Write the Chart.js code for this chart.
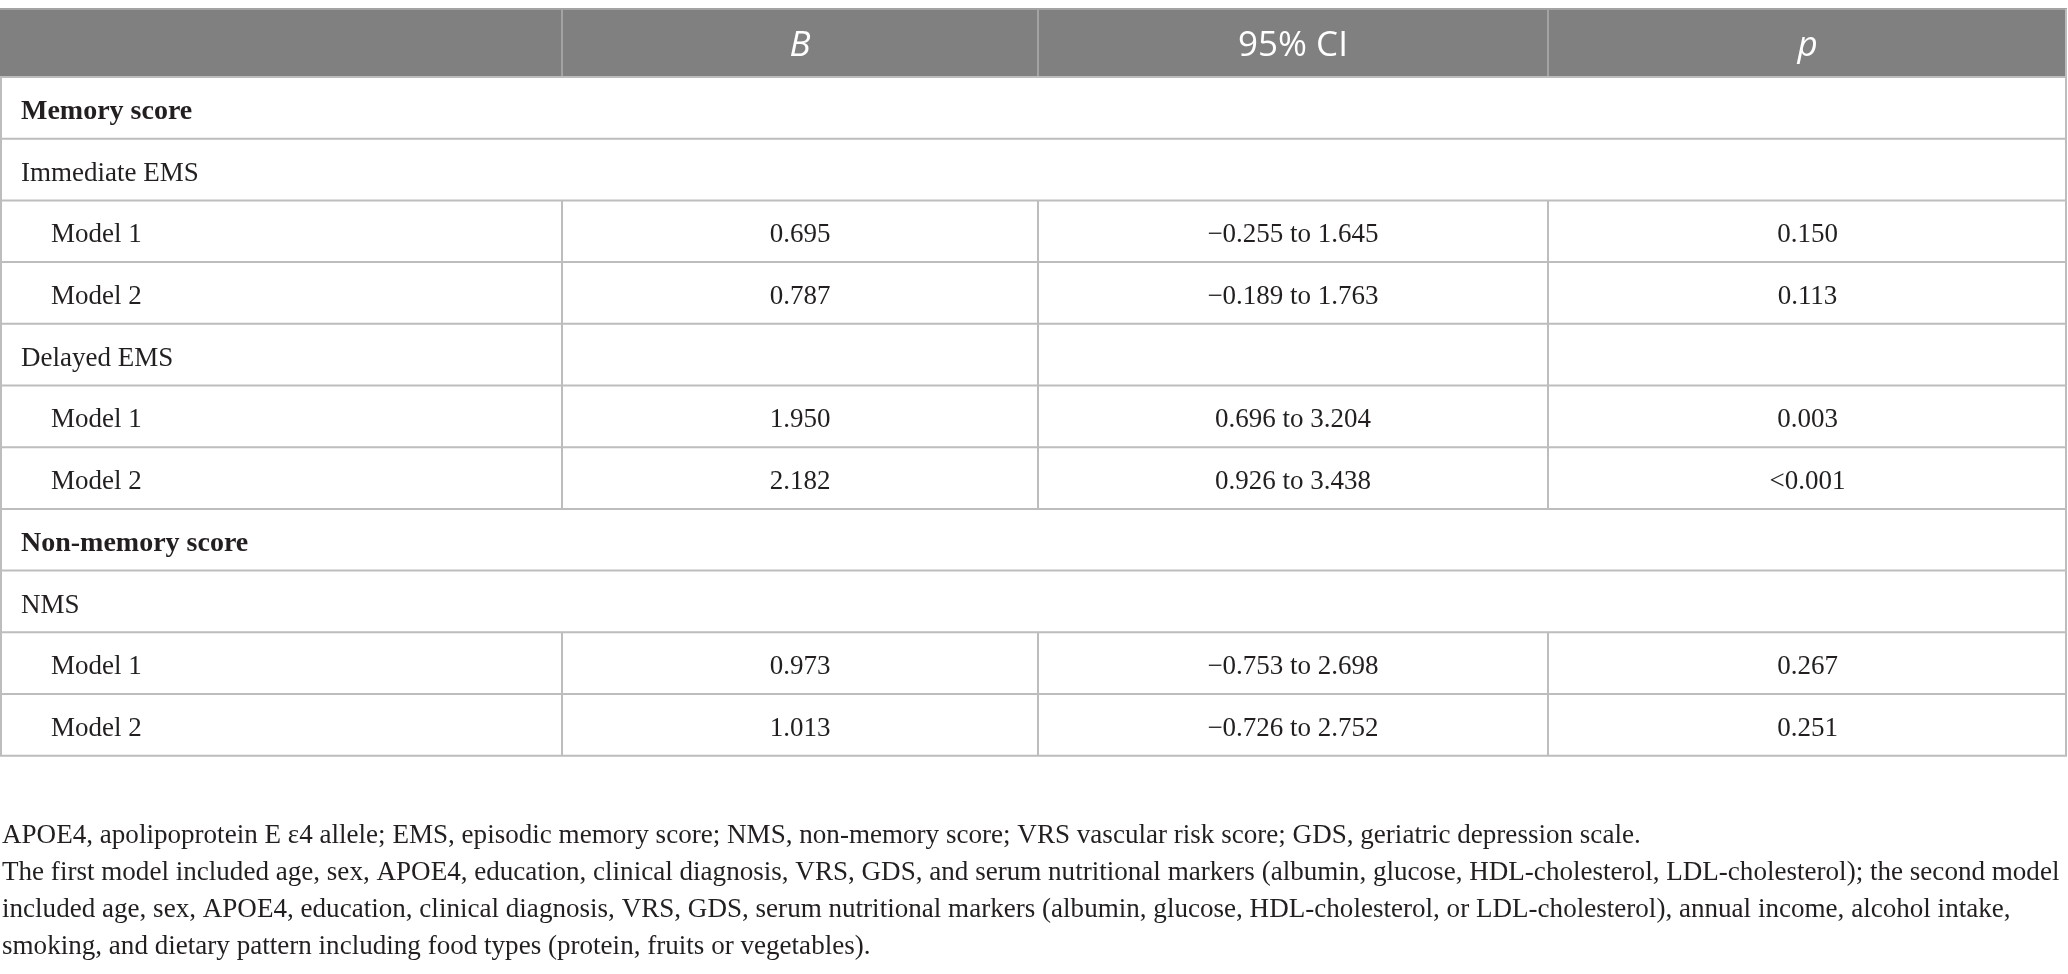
<!DOCTYPE html>
<html>

<head>
    <title>Regression table</title>
    <style type="text/css">
        body {
            margin: 0;
            background: #ffffff;
        }

        #tableChart {
            display: block;
        }
    </style>
    <script src="https://cdn.jsdelivr.net/npm/chart.js@4.4.1/dist/chart.umd.min.js"></script>
</head>

<body>
    <canvas id="tableChart" width="2068" height="974"></canvas>
    <script>
        // table content
        var columnHeads = ['', 'B', '95% CI', 'p'];
        var italicHeads = [false, true, false, true];

        var rowLabels = ['Memory score', 'Immediate EMS', 'Model 1', 'Model 2', 'Delayed EMS', 'Model 1', 'Model 2',
            'Non-memory score', 'NMS', 'Model 1', 'Model 2'];
        var rowKinds = ['section', 'group', 'model', 'model', 'groupSplit', 'model', 'model',
            'section', 'group', 'model', 'model'];

        var bValues = [null, null, 0.695, 0.787, null, 1.950, 2.182, null, null, 0.973, 1.013];
        var ciLow = [null, null, -0.255, -0.189, null, 0.696, 0.926, null, null, -0.753, -0.726];
        var ciHigh = [null, null, 1.645, 1.763, null, 3.204, 3.438, null, null, 2.698, 2.752];
        var pValues = [null, null, '0.150', '0.113', null, '0.003', '<0.001', null, null, '0.267', '0.251'];

        var footnotes = [
            'APOE4, apolipoprotein E \u03b54 allele; EMS, episodic memory score; NMS, non-memory score; VRS vascular risk score; GDS, geriatric depression scale.',
            'The first model included age, sex, APOE4, education, clinical diagnosis, VRS, GDS, and serum nutritional markers (albumin, glucose, HDL-cholesterol, LDL-cholesterol); the second model',
            'included age, sex, APOE4, education, clinical diagnosis, VRS, GDS, serum nutritional markers (albumin, glucose, HDL-cholesterol, or LDL-cholesterol), annual income, alcohol intake,',
            'smoking, and dietary pattern including food types (protein, fruits or vegetables).'
        ];

        // layout (in scale units, which map 1:1 onto the canvas)
        var colEdges = [0, 562, 1038, 1548, 2067];
        var tableTop = 9;
        var headerBottom = 77;
        var rowHeight = 61.7;
        var footTop = 843;
        var footStep = 37.0;
        var footWidth = 2058; // width of the longest footnote line

        var serif = '"Liberation Serif", "DejaVu Serif", serif';
        var sans = '"Open Sans", "Noto Sans", sans-serif';

        function formatNum(v) {
            return (v < 0 ? '\u2212' : '') + Math.abs(v).toFixed(3);
        }

        function cellText(i, col) {
            if (col === 1) return bValues[i] === null ? '' : formatNum(bValues[i]);
            if (col === 2) return ciLow[i] === null ? '' : formatNum(ciLow[i]) + ' to ' + formatNum(ciHigh[i]);
            if (col === 3) return pValues[i] === null ? '' : pValues[i];
            return '';
        }

        var tablePlugin = {
            id: 'tablePlugin',
            afterDraw: function (chart) {
                var ctx = chart.ctx;
                var xs = chart.scales.x;
                var ys = chart.scales.y;
                var X = function (v) { return xs.getPixelForValue(v); };
                var Y = function (v) { return ys.getPixelForValue(v); };
                var left = X(colEdges[0]);
                var right = X(colEdges[colEdges.length - 1]);
                var rowTop = function (i) { return headerBottom + i * rowHeight; };
                var bottom = rowTop(rowLabels.length);

                ctx.save();

                // header band
                ctx.fillStyle = '#7f807f';
                ctx.fillRect(left, Y(tableTop), right - left, Y(headerBottom) - Y(tableTop));

                ctx.lineWidth = 2;
                ctx.strokeStyle = '#a3a3a3';
                for (var c = 1; c < colEdges.length - 1; c++) {
                    ctx.beginPath();
                    ctx.moveTo(X(colEdges[c]), Y(tableTop));
                    ctx.lineTo(X(colEdges[c]), Y(headerBottom));
                    ctx.stroke();
                }
                ctx.beginPath();
                ctx.moveTo(left, Y(tableTop));
                ctx.lineTo(right, Y(tableTop));
                ctx.stroke();

                // header text
                ctx.fillStyle = '#ffffff';
                ctx.textAlign = 'center';
                ctx.textBaseline = 'middle';
                columnHeads.forEach(function (head, c) {
                    if (!head) return;
                    ctx.font = (italicHeads[c] ? 'italic ' : '') + '35px ' + sans;
                    var cx = (X(colEdges[c]) + X(colEdges[c + 1])) / 2;
                    ctx.fillText(head, cx, (Y(tableTop) + Y(headerBottom)) / 2 + 3);
                });

                // body grid
                ctx.strokeStyle = '#bdbdbd';
                ctx.lineWidth = 2;
                for (var r = 0; r <= rowLabels.length; r++) {
                    ctx.beginPath();
                    ctx.moveTo(left, Y(rowTop(r)));
                    ctx.lineTo(right, Y(rowTop(r)));
                    ctx.stroke();
                }
                ctx.beginPath();
                ctx.moveTo(left + 1, Y(headerBottom));
                ctx.lineTo(left + 1, Y(bottom));
                ctx.moveTo(right - 1, Y(tableTop));
                ctx.lineTo(right - 1, Y(bottom));
                ctx.stroke();

                rowLabels.forEach(function (label, i) {
                    var kind = rowKinds[i];
                    var y0 = Y(rowTop(i));
                    var y1 = Y(rowTop(i + 1));
                    var cy = (y0 + y1) / 2 + 4;

                    if (kind === 'model' || kind === 'groupSplit') {
                        ctx.strokeStyle = '#bdbdbd';
                        for (var c = 1; c < colEdges.length - 1; c++) {
                            ctx.beginPath();
                            ctx.moveTo(X(colEdges[c]), y0);
                            ctx.lineTo(X(colEdges[c]), y1);
                            ctx.stroke();
                        }
                    }

                    ctx.fillStyle = '#231f20';
                    ctx.textBaseline = 'middle';
                    ctx.textAlign = 'left';
                    ctx.font = kind === 'section' ? 'bold 28px ' + serif : '27px ' + serif;
                    var indent = kind === 'model' ? 51 : 21;
                    ctx.fillText(label, X(colEdges[0] + indent), cy);

                    ctx.textAlign = 'center';
                    ctx.font = '27px ' + serif;
                    for (var col = 1; col < columnHeads.length; col++) {
                        var txt = cellText(i, col);
                        if (!txt) continue;
                        var cx = (X(colEdges[col]) + X(colEdges[col + 1])) / 2;
                        ctx.fillText(txt, cx, cy);
                    }
                });

                // footnotes, font fitted to the longest line
                ctx.textAlign = 'left';
                ctx.textBaseline = 'alphabetic';
                ctx.font = '25px ' + serif;
                var widest = Math.max.apply(null, footnotes.map(function (t) { return ctx.measureText(t).width; }));
                var fs = 25 * footWidth / widest;
                ctx.font = fs.toFixed(2) + 'px ' + serif;
                ctx.fillStyle = '#231f20';
                footnotes.forEach(function (t, k) {
                    ctx.fillText(t, X(2), Y(footTop + k * footStep));
                });

                ctx.restore();
            }
        };

        new Chart(document.getElementById('tableChart').getContext('2d'), {
            type: 'scatter',
            data: { datasets: [] },
            options: {
                responsive: false,
                animation: false,
                devicePixelRatio: 1,
                layout: { padding: 0 },
                plugins: {
                    legend: { display: false },
                    tooltip: { enabled: false }
                },
                scales: {
                    x: { type: 'linear', display: false, min: 0, max: 2068 },
                    y: { type: 'linear', display: false, min: 0, max: 974, reverse: true }
                }
            },
            plugins: [tablePlugin]
        });
    </script>
</body>

</html>
